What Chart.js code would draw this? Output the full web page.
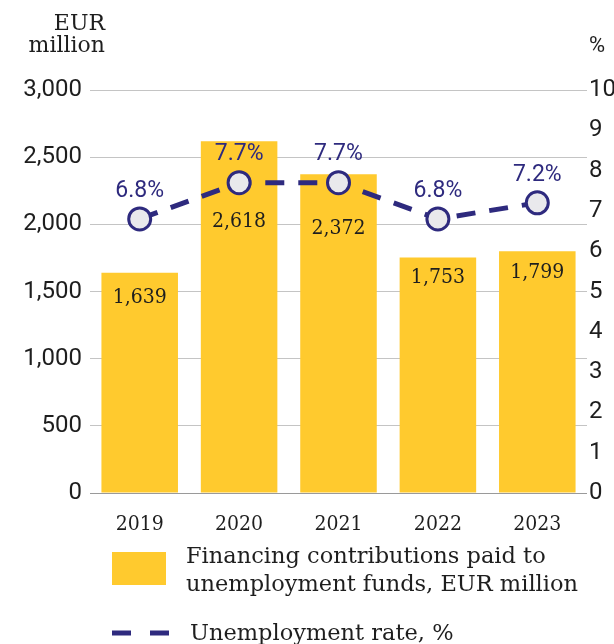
<!DOCTYPE html>
<html>
<head>
<meta charset="utf-8">
<script src="https://cdn.jsdelivr.net/npm/chart.js@4"></script>
<style>
  html, body { margin: 0; padding: 0; background: #fff; }
  #wrap { width: 614px; height: 644px; }
</style>
</head>
<body>
<div id="wrap"><canvas id="myChart" width="614" height="644"></canvas></div>
<script>
var years = ["2019", "2020", "2021", "2022", "2023"];
var contributions = [1639, 2618, 2372, 1753, 1799];
var unemploymentRate = [6.8, 7.7, 7.7, 6.8, 7.2];
var leftTicks = [0, 500, 1000, 1500, 2000, 2500, 3000];
var rightTicks = [0, 1, 2, 3, 4, 5, 6, 7, 8, 9, 10];

var YELLOW = '#FFCA2E';
var NAVY = '#2E2A7E';
var TEXT = '#1e1e1e';
var SLAB = '"DejaVu Serif", serif';
var SLAB_NARROW = '"DejaVu Serif Condensed", "DejaVu Serif", serif';
var SANS = 'Roboto, sans-serif';

// how far below the bar top each value label sits (keeps clear of the line)
var barLabelOffset = [25, 80, 54, 20, 21];

var fmt = function (v) { return v.toLocaleString('en-US'); };

var labelsPlugin = {
    id: 'labels',
    afterDatasetsDraw: function (chart) {
        var ctx = chart.ctx;
        ctx.save();
        ctx.textAlign = 'center';
        ctx.textBaseline = 'middle';

        // bar values
        ctx.font = '21px ' + SLAB_NARROW;
        ctx.fillStyle = TEXT;
        chart.getDatasetMeta(1).data.forEach(function (bar, i) {
            ctx.fillText(fmt(contributions[i]), bar.x, bar.y + barLabelOffset[i]);
        });

        // percentages above the points
        ctx.font = '23px ' + SANS;
        ctx.fillStyle = NAVY;
        chart.getDatasetMeta(0).data.forEach(function (pt, i) {
            ctx.fillText(unemploymentRate[i].toFixed(1) + '%', pt.x, pt.y - 28);
        });
        ctx.restore();
    },
    afterDraw: function (chart) {
        var ctx = chart.ctx;
        ctx.save();

        // axis titles
        ctx.fillStyle = TEXT;
        ctx.font = '22px ' + SLAB;
        ctx.textAlign = 'right';
        ctx.textBaseline = 'alphabetic';
        ctx.fillText('EUR', 105, 30);
        ctx.fillText('million', 105, 52);
        ctx.font = '22px ' + SANS;
        ctx.textAlign = 'left';
        ctx.fillText('%', 589, 52);

        // legend
        ctx.fillStyle = YELLOW;
        ctx.fillRect(112, 552, 54, 33);
        ctx.fillStyle = TEXT;
        ctx.font = '22.5px ' + SLAB;
        ctx.textBaseline = 'middle';
        ctx.fillText('Financing contributions paid to', 186, 557);
        ctx.fillText('unemployment funds, EUR million', 186, 585);

        ctx.strokeStyle = NAVY;
        ctx.lineWidth = 5;
        ctx.beginPath();
        ctx.moveTo(112, 633); ctx.lineTo(131, 633);
        ctx.moveTo(150, 633); ctx.lineTo(169, 633);
        ctx.stroke();
        ctx.fillText('Unemployment rate, %', 190, 634);
        ctx.restore();
    }
};

var ctx = document.getElementById('myChart').getContext('2d');
var chart = new Chart(ctx, {
    type: 'bar',
    data: {
        labels: years,
        datasets: [{
            type: 'line',
            label: 'Unemployment rate, %',
            data: unemploymentRate,
            yAxisID: 'yRight',
            borderColor: NAVY,
            borderWidth: 5,
            borderDash: [19, 14],
            pointRadius: 11,
            pointBorderWidth: 3,
            pointBackgroundColor: '#E9E9EC',
            pointBorderColor: NAVY,
            tension: 0,
            order: 0
        }, {
            type: 'bar',
            label: 'Financing contributions paid to unemployment funds, EUR million',
            data: contributions,
            yAxisID: 'yLeft',
            backgroundColor: YELLOW,
            borderWidth: 0,
            categoryPercentage: 1,
            barPercentage: 0.77,
            order: 1
        }]
    },
    options: {
        responsive: false,
        animation: false,
        layout: { padding: { top: 90, left: 0, right: 0, bottom: 0 } },
        plugins: {
            legend: { display: false },
            tooltip: { enabled: false }
        },
        scales: {
            x: {
                grid: { display: false },
                border: { display: false },
                ticks: { color: TEXT, font: { family: SLAB_NARROW, size: 21 }, padding: 11 },
                afterFit: function (scale) { scale.height = 151; }
            },
            yLeft: {
                position: 'left',
                min: 0,
                max: 3000,
                afterBuildTicks: function (scale) {
                    scale.ticks = leftTicks.map(function (v) { return { value: v }; });
                },
                ticks: {
                    color: TEXT,
                    font: { family: SANS, size: 24 },
                    padding: 8,
                    callback: function (v) { return fmt(v); }
                },
                grid: {
                    drawTicks: false,
                    color: function (c) { return c.tick.value === 0 ? '#9a9a9a' : '#c4c4c4'; },
                    lineWidth: 1
                },
                border: { display: false },
                afterFit: function (scale) { scale.width = 90; }
            },
            yRight: {
                position: 'right',
                min: 0,
                max: 10,
                afterBuildTicks: function (scale) {
                    scale.ticks = rightTicks.map(function (v) { return { value: v }; });
                },
                ticks: { color: TEXT, font: { family: SANS, size: 24 }, padding: 2 },
                grid: { display: false, drawTicks: false },
                border: { display: false },
                afterFit: function (scale) { scale.width = 27; }
            }
        }
    },
    plugins: [labelsPlugin]
});
</script>
</body>
</html>
